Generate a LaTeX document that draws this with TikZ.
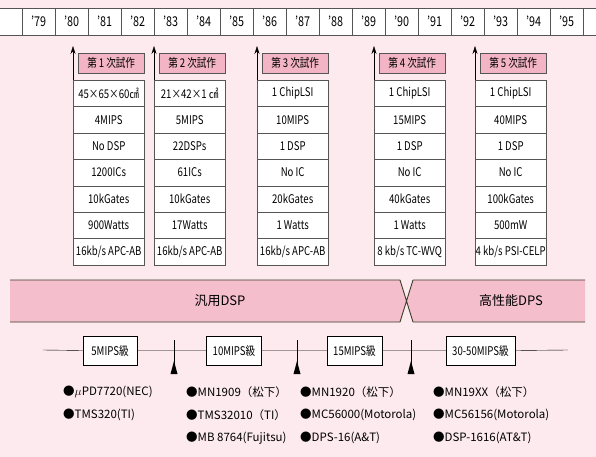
\documentclass[tikz,border=0pt]{standalone}
\usepackage{fontspec}
\setmainfont{Noto Sans CJK JP}
\newfontfamily\cond[FakeStretch=0.8]{Noto Sans CJK JP}
\usetikzlibrary{arrows.meta}
\definecolor{bg}{RGB}{252,234,239}
\definecolor{bandpink}{RGB}{245,190,205}
\definecolor{hdrpink}{RGB}{243,180,197}
\definecolor{edge}{RGB}{85,85,85}
\definecolor{bandedge}{RGB}{60,60,40}
\begin{document}
\begin{tikzpicture}[x=1pt,y=-1pt,
  tcell/.style={draw=edge,fill=white,minimum width=71pt,minimum height=26.4pt,inner sep=0pt,anchor=north west,font=\cond\fontsize{12}{14}\selectfont},
  hdr/.style={draw=edge,fill=hdrpink,minimum width=66pt,minimum height=20pt,inner sep=0pt,anchor=north west,font=\cond\fontsize{12}{14}\selectfont},
  ycell/.style={draw=edge,fill=white,minimum width=33pt,minimum height=27pt,inner sep=0pt,anchor=north west,font=\cond\fontsize{13.5}{15}\selectfont},
  mbox/.style={draw=black,fill=white,minimum height=29pt,inner sep=0pt,font=\cond\fontsize{12}{14}\selectfont},
  blt/.style={anchor=west,inner sep=0pt,font=\fontsize{11.5}{13}\selectfont},
  uparrow/.style={draw=black,-{Stealth[length=8pt,width=5pt]}},
  bandlabel/.style={font=\fontsize{13}{15}\selectfont}]
% background
\fill[bg] (0,0) rectangle (596,457);
\useasboundingbox (0,0) rectangle (596,457);
% year bar
\fill[white] (0,8) rectangle (596,35);
\draw[edge] (0,8) -- (596,8) (0,35) -- (596,35);
\foreach \yr [count=\k from 0] in {79,80,81,82,83,84,85,86,87,88,89,90,91,92,93,94,95}{
  \node[ycell] (y\yr) at ({22+33*\k},8) {’\yr};
}
% columns
\foreach \c/\L/\n/\ra/\rb/\rc/\rd/\re/\rf/\rg in {
  1/73/1/{45×65×60㎠}/4MIPS/No DSP/1200ICs/10kGates/900Watts/{16kb/s APC-AB},
  2/154/2/{21×42×1 ㎠}/5MIPS/22DSPs/61ICs/10kGates/17Watts/{16kb/s APC-AB},
  3/257/3/1 ChipLSI/10MIPS/1 DSP/No IC/20kGates/1 Watts/{16kb/s APC-AB},
  4/374/4/1 ChipLSI/15MIPS/1 DSP/No IC/40kGates/1 Watts/{8 kb/s TC-WVQ},
  5/475/5/1 ChipLSI/40MIPS/1 DSP/No IC/100kGates/500mW/{4 kb/s PSI-CELP}}{
  \node[hdr] (h\c) at ({\L+5},53) {第\,\n\,次試作};
  \node[tcell] (c\c r1) at (\L,80) {\ra};
  \node[tcell] (c\c r2) at (\L,106.4) {\rb};
  \node[tcell] (c\c r3) at (\L,132.8) {\rc};
  \node[tcell] (c\c r4) at (\L,159.2) {\rd};
  \node[tcell] (c\c r5) at (\L,185.6) {\re};
  \node[tcell] (c\c r6) at (\L,212.0) {\rf};
  \node[tcell] (c\c r7) at (\L,238.4) {\rg};
  \coordinate (a\c) at (\L,46);
  \draw[uparrow] (c\c r1.north west) -- (a\c);
}
% band
\fill[bandpink] (10,280) -- (400,280) -- (406.5,301) -- (400,322) -- (10,322) -- cycle;
\fill[bandpink] (413,280) -- (585,280) -- (585,322) -- (413,322) -- (406.5,301) -- cycle;
\draw[bandedge,line width=0.9pt] (10,280) -- (400,280) (413,280) -- (585,280)
  (10,322) -- (400,322) (413,322) -- (585,322)
  (400,280) -- (413,322) (413,280) -- (400,322);
\node[bandlabel] (gen) at (220,301) {汎用DSP};
\node[bandlabel] (hp) at (511,301) {高性能DPS};
% MIPS line
\coordinate (ms) at (43,350);
\coordinate (me) at (568,350);
\node[mbox,minimum width=54pt] (m1) at (110,350.5) {5MIPS級};
\node[mbox,minimum width=55pt] (m2) at (234,350.5) {10MIPS級};
\node[mbox,minimum width=55pt] (m3) at (354.5,350.5) {15MIPS級};
\node[mbox,minimum width=69pt] (m4) at (480.5,350.5) {30-50MIPS級};
\draw (ms) -- (m1.west) (m1.east) -- (m2.west) (m2.east) -- (m3.west) (m3.east) -- (m4.west) (m4.east) -- (me);
\foreach \t/\x in {1/174,2/297,3/411}{
  \coordinate (t\t a) at (\x,340);
  \coordinate (t\t b) at (\x,373);
  \draw (t\t a) -- (t\t b);
  \fill ({\x-3.5},374) -- ({\x+3.5},374) -- (\x,361) -- cycle;
}
% bullet lists
\node[blt] (b11) at (63,392) {●$\mu$PD7720(NEC)};
\node[blt] (b12) at (63,415) {●TMS320(TI)};
\node[blt] (b21) at (186,392) {●MN1909（松下）};
\node[blt] (b22) at (186,415) {●TMS32010（TI）};
\node[blt] (b23) at (186,438) {●MB 8764(Fujitsu)};
\node[blt] (b31) at (300,392) {●MN1920（松下）};
\node[blt] (b32) at (300,415) {●MC56000(Motorola)};
\node[blt] (b33) at (300,438) {●DPS-16(A\&T)};
\node[blt] (b41) at (433,392) {●MN19XX（松下）};
\node[blt] (b42) at (433,415) {●MC56156(Motorola)};
\node[blt] (b43) at (433,438) {●DSP-1616(AT\&T)};
\end{tikzpicture}
\end{document}
